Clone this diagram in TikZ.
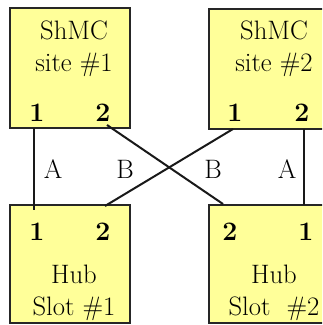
\documentclass[tikz,border=0pt]{standalone}
\usetikzlibrary{positioning}
\definecolor{boxyellow}{RGB}{255,255,153}

\begin{document}
\begin{tikzpicture}[x=0.75pt,y=0.75pt,yscale=-1,xscale=1,
  hwbox/.style={draw=black!85, fill=boxyellow, line width=1.2pt, minimum width=90pt, minimum height=90pt, inner sep=0pt},
  boxtext/.style={inner sep=0.75pt, align=center, font=\fontsize{20}{24}\selectfont},
  port/.style={inner sep=0.75pt, font=\fontsize{20}{24}\selectfont\bfseries},
  cable/.style={line width=1.5pt, draw=black!90},
  cablelabel/.style={inner sep=0.75pt, font=\fontsize{20}{24}\selectfont}]
\clip (0,0) rectangle (322,325);
%Shape: Rectangle [site 1]
\node [hwbox] (site1) at (70,68) {};
%Shape: Rectangle [site 2]
\node [hwbox] (site2) at (269,69) {};
%Shape: Rectangle [slot 1]
\node [hwbox, minimum height=88.5pt] (slot1) at (70,264) {};
%Shape: Rectangle [slot 2]
\node [hwbox, minimum height=88.5pt] (slot2) at (269,264) {};
% Text Node
\node [boxtext] (site1text) at (74,49) {ShMC\\site \#1};
\node [boxtext] (site2text) at (274,49) {ShMC\\site \#2};
\node [boxtext] (slot1text) at (74,293) {Hub\\Slot \#1};
\node [boxtext] (slot2text) at (274,293) {Hub\\Slot\ \ \#2};
% Port Nodes
\node [port] (s1p1) at (37,113) {1};
\node [port] (s1p2) at (103,113) {2};
\node [port] (s2p1) at (235,113) {1};
\node [port] (s2p2) at (302,113) {2};
\node [port] (h1p1) at (37,232) {1};
\node [port] (h1p2) at (103,232) {2};
\node [port] (h2p2) at (230,232) {2};
\node [port] (h2p1) at (306,232) {1};
% Cable Ends
\coordinate (aLtop) at (34,128);
\coordinate (aLbot) at (34,210);
\coordinate (aRtop) at (304,129);
\coordinate (aRbot) at (304,205);
\coordinate (bDtop) at (107,125);
\coordinate (bDbot) at (223,204);
\coordinate (bUtop) at (233,129);
\coordinate (bUbot) at (105,206);
%Straight Lines
\draw [cable] (aLtop) -- (aLbot);
\draw [cable] (aRtop) -- (aRbot);
\draw [cable] (bDtop) -- (bDbot);
\draw [cable] (bUtop) -- (bUbot);
% Text Node
\node [cablelabel] (labA1) at (53,169) {A};
\node [cablelabel] (labB1) at (125,169) {B};
\node [cablelabel] (labB2) at (213,169) {B};
\node [cablelabel] (labA2) at (287,169) {A};
\end{tikzpicture}
\end{document}
